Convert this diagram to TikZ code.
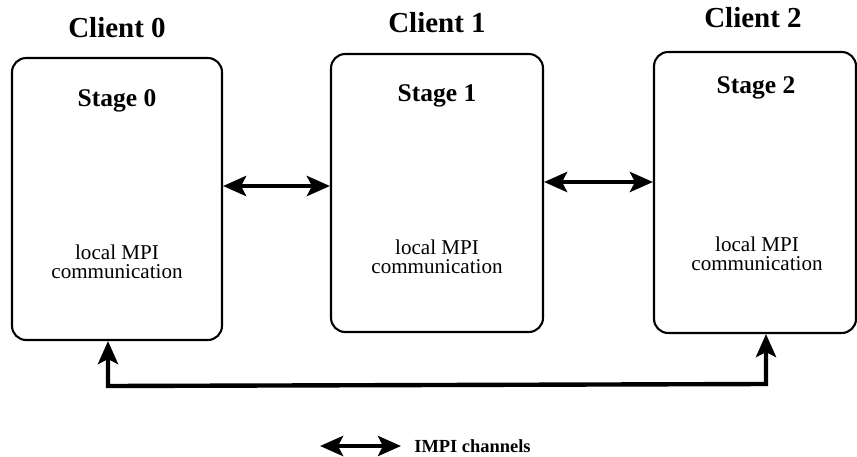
\documentclass[tikz,border=0pt]{standalone}
\usepackage{fontspec}
\setmainfont{Liberation Serif}
\usetikzlibrary{arrows.meta, calc, positioning}

\begin{document}
\begin{tikzpicture}[x=0.02cm, y=-0.02cm, >={Stealth[length=0.46cm,width=0.4cm,inset=0.1cm]},
    clientbox/.style={draw, line width=1.2pt, rounded corners=8pt, inner sep=0pt},
    clienttitle/.style={font=\fontsize{16.5}{18}\selectfont\bfseries},
    stagetitle/.style={font=\fontsize{14.5}{16}\selectfont\bfseries},
    localtext/.style={align=center, font=\fontsize{12}{10.5}\selectfont},
    chan/.style={<->, line width=2.5pt}]
    \useasboundingbox (0,0) rectangle (857,456);

    \node[clientbox, minimum width=4.2cm, minimum height=5.64cm] (client0) at (117,199) {};
    \node[clientbox, minimum width=4.24cm, minimum height=5.56cm] (client1) at (437,193) {};
    \node[clientbox, minimum width=4.04cm, minimum height=5.62cm] (client2) at (755,192.5) {};

    \node[clienttitle] (title0) at (117,28) {Client 0};
    \node[clienttitle] (title1) at (437,23) {Client 1};
    \node[clienttitle] (title2) at (753,18) {Client 2};

    \node[stagetitle] (stage0) at (117,101) {Stage 0};
    \node[stagetitle] (stage1) at (437,96) {Stage 1};
    \node[stagetitle] (stage2) at (756,88) {Stage 2};

    \foreach \i/\x/\y in {0/117/262,1/437/257,2/757/254}{
      \node[localtext] (mpi\i) at (\x,\y) {local MPI\\communication};
    }

    \draw[chan] (client0.east |- 0,186) -- (client1.west |- 0,186);
    \draw[chan] (client1.east |- 0,182) -- (client2.west |- 0,182);

    \coordinate (loopL) at (108,386);
    \coordinate (loopR) at (766,384);
    \draw[chan] (client0.south -| loopL) -- (loopL) -- (loopR) -- (client2.south -| loopR);

    \coordinate (keyL) at (320,446);
    \coordinate (keyR) at (401,446);
    \draw[chan] (keyL) -- (keyR)
    node[right=3pt, font=\fontsize{10.5}{12}\selectfont\bfseries] (keytext) {IMPI channels};
\end{tikzpicture}
\end{document}
